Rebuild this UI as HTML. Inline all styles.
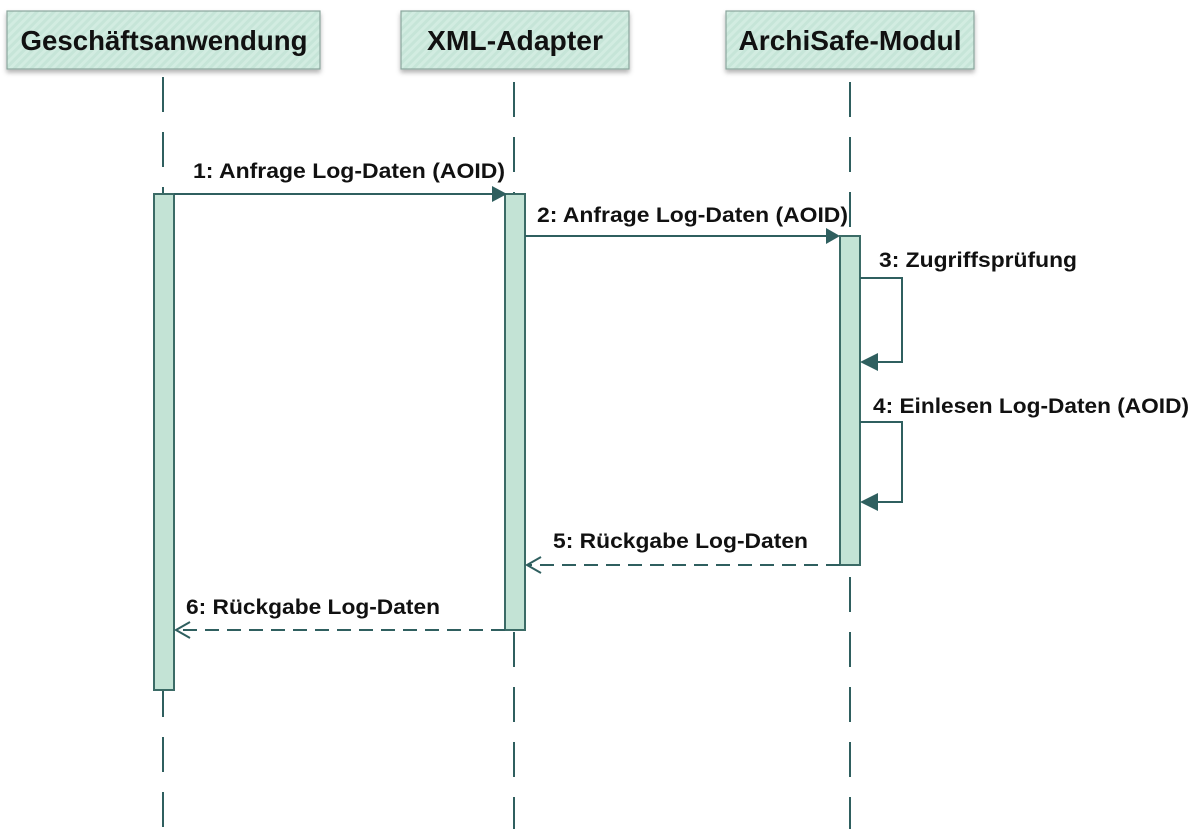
<!DOCTYPE html>
<html><head><meta charset="utf-8"><style>
body{margin:0;background:#fff;width:1201px;height:829px;overflow:hidden}
</style></head><body>
<svg width="1201" height="829" xmlns="http://www.w3.org/2000/svg" style="font-family:'Liberation Sans',Arial,sans-serif">
<defs>
<pattern id="st" width="6" height="6" patternUnits="userSpaceOnUse" patternTransform="rotate(45)">
<rect width="6" height="6" fill="#c6e5d8"/><rect width="3" height="6" fill="#d2ece1"/></pattern>
<filter id="sh" x="-10%" y="-20%" width="120%" height="160%"><feDropShadow dx="0" dy="3" stdDeviation="2.5" flood-color="#000" flood-opacity="0.3"/></filter>
</defs>
<g stroke="#8aa59c" stroke-width="1.2" fill="url(#st)" filter="url(#sh)">
<rect x="7" y="11" width="313" height="58"/>
<rect x="401" y="11" width="228" height="58"/>
<rect x="726" y="11" width="248" height="58"/>
</g>
<g font-weight="bold" font-size="28" text-anchor="middle" fill="#111">
<text x="164" y="50" textLength="287" lengthAdjust="spacingAndGlyphs">Geschäftsanwendung</text>
<text x="515" y="50" textLength="176" lengthAdjust="spacingAndGlyphs">XML-Adapter</text>
<text x="850" y="50" textLength="223" lengthAdjust="spacingAndGlyphs">ArchiSafe-Modul</text>
</g>
<g stroke="#2f5f5f" stroke-width="2" stroke-dasharray="35 20" fill="none">
<line x1="163" y1="77" x2="163" y2="829"/>
<line x1="514" y1="82" x2="514" y2="829"/>
<line x1="850" y1="82" x2="850" y2="829"/>
</g>
<g fill="#c3e3d5" stroke="#3b6b66" stroke-width="2">
<rect x="154" y="194" width="20" height="496"/>
<rect x="505" y="194" width="20" height="436"/>
<rect x="840" y="236" width="20" height="329"/>
</g>
<g stroke="#2f5f5f" stroke-width="2" fill="none">
<line x1="174" y1="194" x2="492" y2="194"/>
<line x1="525" y1="236" x2="827" y2="236"/>
<polyline points="860,278 902,278 902,362 873,362"/>
<polyline points="860,422 902,422 902,502 873,502"/>
<line x1="840" y1="565" x2="527" y2="565" stroke-dasharray="14 8"/>
<line x1="505" y1="630" x2="176" y2="630" stroke-dasharray="14 8"/>
<polyline points="541,557 527,565 541,573"/>
<polyline points="190,622 176,630 190,638"/>
</g>
<g fill="#2f5f5f">
<polygon points="492,186 507,194 492,202"/>
<polygon points="826,228 840,236 826,244"/>
<polygon points="860,362 878,353 878,371"/>
<polygon points="860,502 878,493 878,511"/>
</g>
<g font-weight="bold" font-size="21" fill="#111">
<text x="193" y="178" textLength="312" lengthAdjust="spacingAndGlyphs">1: Anfrage Log-Daten (AOID)</text>
<text x="537" y="222" textLength="311" lengthAdjust="spacingAndGlyphs">2: Anfrage Log-Daten (AOID)</text>
<text x="879" y="267" textLength="198" lengthAdjust="spacingAndGlyphs">3: Zugriffsprüfung</text>
<text x="873" y="413" textLength="316" lengthAdjust="spacingAndGlyphs">4: Einlesen Log-Daten (AOID)</text>
<text x="553" y="548" textLength="255" lengthAdjust="spacingAndGlyphs">5: Rückgabe Log-Daten</text>
<text x="186" y="614" textLength="254" lengthAdjust="spacingAndGlyphs">6: Rückgabe Log-Daten</text>
</g>
</svg>
</body></html>
